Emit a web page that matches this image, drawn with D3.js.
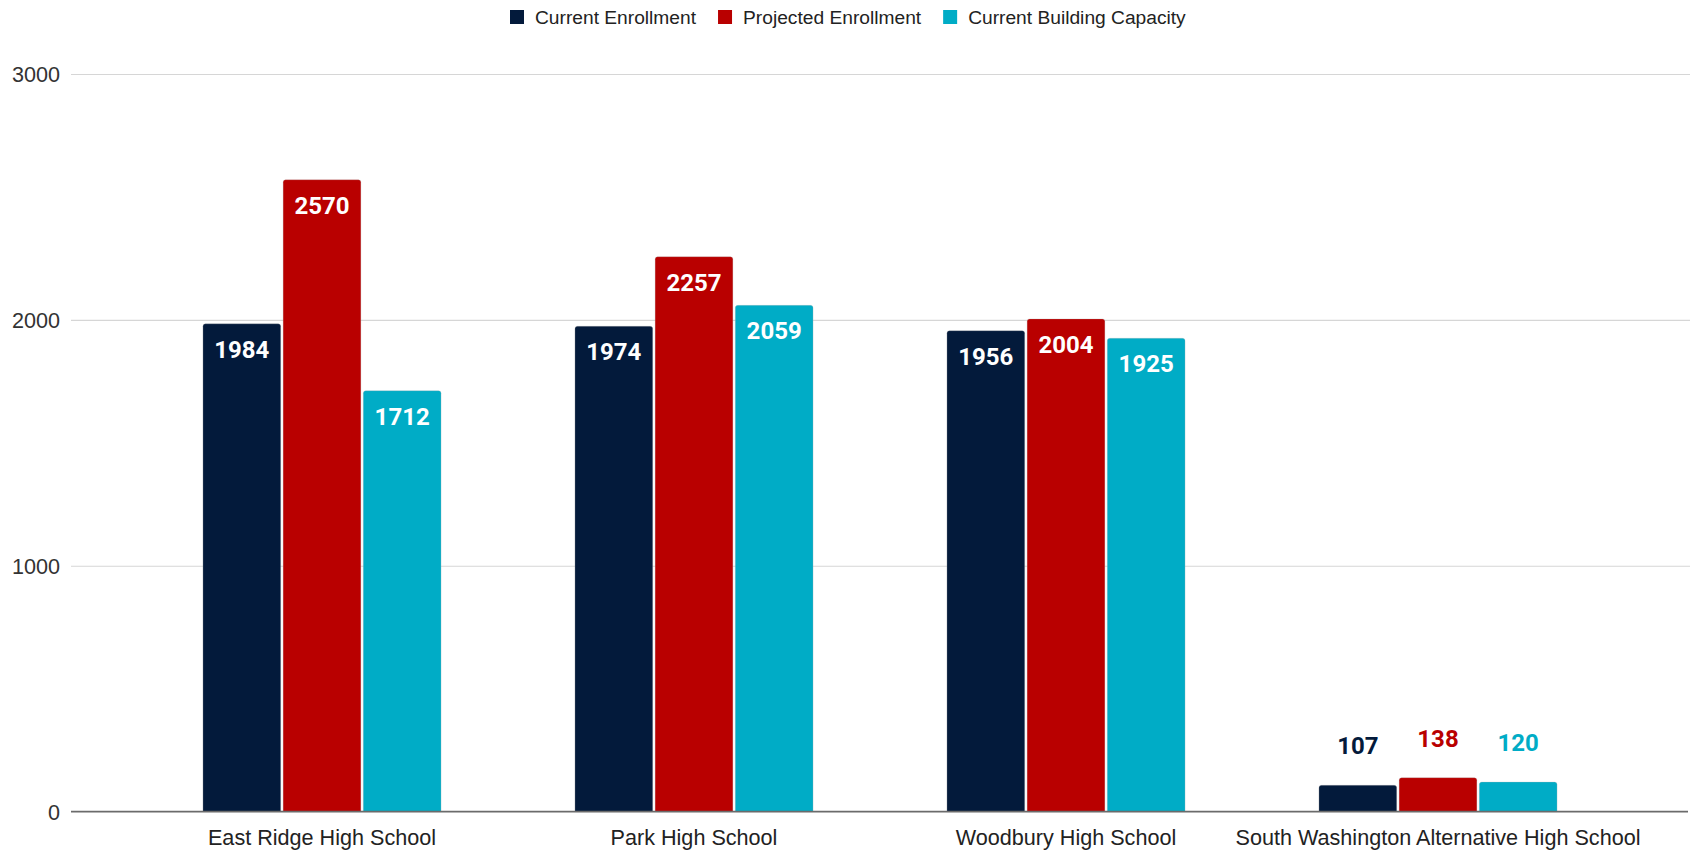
<!DOCTYPE html>
<html>
<head>
<meta charset="utf-8">
<script src="https://cdn.jsdelivr.net/npm/d3@7"></script>
<style>
  html, body { margin: 0; padding: 0; background: #ffffff; }
  svg { display: block; }
</style>
</head>
<body>
<svg id="chart" width="1690" height="854"></svg>
<script>
const categories = ["East Ridge High School", "Park High School", "Woodbury High School", "South Washington Alternative High School"];
const seriesNames = ["Current Enrollment", "Projected Enrollment", "Current Building Capacity"];
const currentEnrollment = [1984, 1974, 1956, 107];
const projectedEnrollment = [2570, 2257, 2004, 138];
const buildingCapacity = [1712, 2059, 1925, 120];
const yTicks = [0, 1000, 2000, 3000];
const colors = ["#031a3b", "#b90000", "#00acc6"];

const seriesValues = [currentEnrollment, projectedEnrollment, buildingCapacity];
const svg = d3.select("#chart");
const W = 1690, H = 854;

const y = d3.scaleLinear().domain([0, 3000]).range([811.6, 74]);
const x = d3.scaleBand().domain(categories).range([136, 1624]).paddingInner(0.36).paddingOuter(0.18);
const xs = d3.scaleBand().domain(seriesNames).range([0, x.bandwidth()]).paddingInner(0.03).paddingOuter(0);

const axisFont = "'Liberation Sans', Arial, sans-serif";

// gridlines
const yAxis = d3.axisLeft(y).tickValues(yTicks).tickSize(0).tickFormat(d3.format("d"));
const gy = svg.append("g").attr("transform", "translate(71,0)").call(yAxis);
gy.select(".domain").remove();
gy.selectAll("text")
  .attr("x", -11)
  .attr("dy", "0.35em")
  .style("font-family", axisFont)
  .style("font-size", "21.6px")
  .attr("fill", "#333");
gy.selectAll(".tick").filter(d => d !== 0).append("line")
  .attr("x1", 0).attr("x2", W - 71)
  .attr("stroke", "#d6d6d6").attr("stroke-width", 1.2);

// bars
const data = [];
categories.forEach((c, i) => {
  seriesNames.forEach((s, j) => {
    data.push({ cat: c, series: s, si: j, value: seriesValues[j][i] });
  });
});

function barPath(x0, y0, w, h, r) {
  r = Math.min(r, h);
  return `M${x0},${y0 + h}V${y0 + r}Q${x0},${y0} ${x0 + r},${y0}H${x0 + w - r}Q${x0 + w},${y0} ${x0 + w},${y0 + r}V${y0 + h}Z`;
}

svg.append("g").selectAll("path").data(data).join("path")
  .attr("d", d => {
    const bx = x(d.cat) + xs(d.series);
    const by = y(d.value);
    return barPath(bx, by, xs.bandwidth(), y(0) - by, 2.5);
  })
  .attr("fill", d => colors[d.si])
  .attr("stroke", "rgba(180,180,180,0.35)")
  .attr("stroke-width", 0.8);

// x axis
const xAxis = d3.axisBottom(x).tickSize(0);
const gx = svg.append("g").attr("transform", `translate(0,${y(0)})`).call(xAxis);
gx.select(".domain").remove();
gx.append("line").attr("x1", 71).attr("x2", 1688).attr("y1", 0).attr("y2", 0)
  .attr("stroke", "#6b6b6b").attr("stroke-width", 1.6);
gx.selectAll(".tick text")
  .attr("y", 33).attr("dy", 0)
  .style("font-family", axisFont)
  .style("font-size", "21.6px")
  .attr("fill", "#222");

// data labels
svg.append("g").selectAll("text").data(data).join("text")
  .attr("x", d => x(d.cat) + xs(d.series) + xs.bandwidth() / 2)
  .attr("y", d => {
    const inside = (y(0) - y(d.value)) > 50;
    return inside ? y(d.value) + 34 : y(d.value) - 31;
  })
  .attr("text-anchor", "middle")
  .style("font-family", "Roboto, sans-serif")
  .style("font-weight", "700")
  .style("font-size", "24px")
  .attr("fill", d => ((y(0) - y(d.value)) > 50) ? "#ffffff" : colors[d.si])
  .text(d => d.value);

// legend
const legend = svg.append("g");
let lx = 510;
seriesNames.forEach((s, j) => {
  legend.append("rect").attr("x", lx).attr("y", 10).attr("width", 14).attr("height", 14).attr("fill", colors[j]);
  const t = legend.append("text").attr("x", lx + 25).attr("y", 24)
    .style("font-family", axisFont).style("font-size", "19.2px").attr("fill", "#222").text(s);
  const w = t.node().getComputedTextLength();
  lx = lx + 25 + w + 22;
});
</script>
</body>
</html>
